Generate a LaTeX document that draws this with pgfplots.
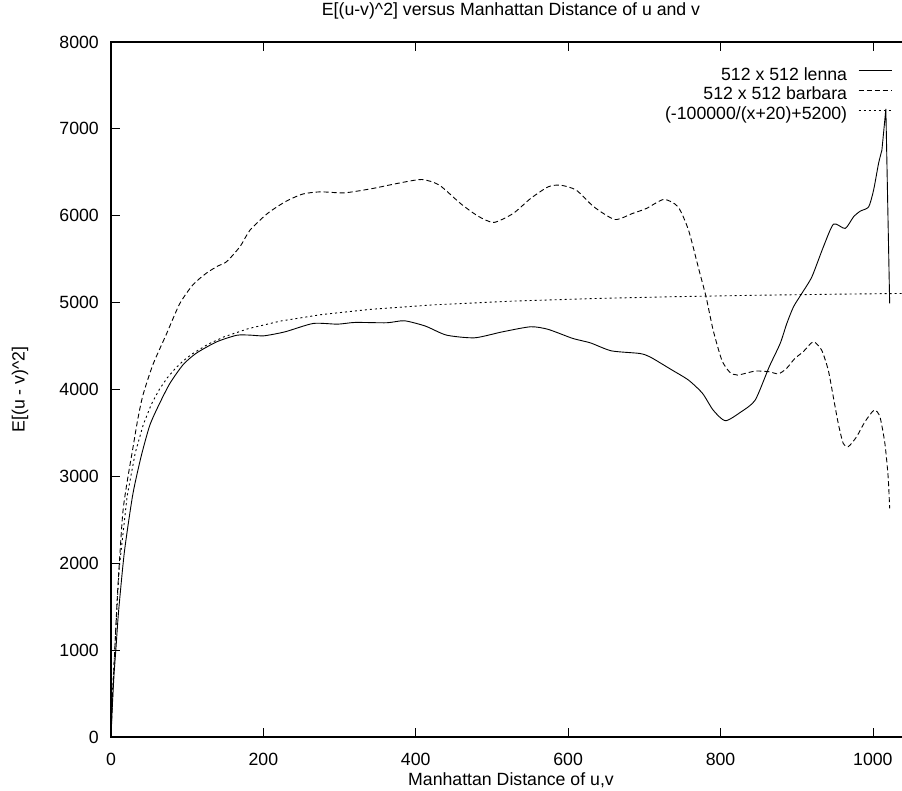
\documentclass[border=0pt]{standalone}
\usepackage{fontspec}
\setmainfont{Liberation Sans}
\usepackage{pgfplots}
\pgfplotsset{compat=1.18}
\begin{document}
\begin{tikzpicture}[font=\fontsize{17.7}{21}\selectfont]
\begin{axis}[name=ax,
  scale only axis, width=800pt, height=695pt,
  xmin=0, xmax=1050, ymin=0, ymax=8000,
  xtick={0,200,...,1000}, ytick={0,1000,...,8000},
  ytick pos=left,
  tick align=inside,
  major tick length=9pt,
  axis line style={line width=1.2pt},
  every tick/.style={black, line width=0.8pt},
  /pgf/number format/assume math mode=true,
  /pgf/number format/1000 sep={},
  scaled ticks=false,
  xticklabel style={anchor=base, inner sep=0pt, yshift=-29pt},
  yticklabel style={anchor=east, inner sep=0pt, xshift=-12pt},
  title={E[(u-v)\textasciicircum 2] versus Manhattan Distance of u and v},
  title style={at={(axis description cs:0.5,1)}, anchor=base, inner sep=0pt, yshift=20pt},
  xlabel={Manhattan Distance of u,v},
  xlabel style={at={(axis description cs:0.5,0)}, anchor=base, inner sep=0pt, yshift=-49pt},
  ylabel={E[(u - v)\textasciicircum 2]},
  ylabel style={at={([xshift=-91pt]axis description cs:0,0.5)}, anchor=center, inner sep=0pt},
  legend style={draw=none, fill=none, at={(rel axis cs:0.97625,1)}, anchor=north east,
    yshift=-25.4pt, inner sep=0pt, outer sep=0pt, row sep=0pt, column sep=11pt,
    nodes={inner sep=0pt, text height=13pt, text depth=6.6pt}},
  legend cell align=right,
  legend plot pos=right,
  legend image code/.code={\draw[#1] (0pt,6.3pt) -- (33pt,6.3pt);},
]
% 512 x 512 lenna
\addplot[black, line width=0.9pt, smooth, tension=0.4] coordinates {
(0,0) (2,400) (4,720) (6.6,1033) (10,1450) (17.6,2132) (28.6,2791) (39.6,3231)
(50.7,3582) (61.7,3802) (77,4066) (94.7,4286) (112,4418) (138.8,4549) (165,4624)
(182.4,4626) (200.8,4618) (228.5,4664) (265.4,4760) (297.5,4752) (320.6,4772)
(361.9,4768) (385,4791) (412.6,4730) (440.3,4626) (477.2,4595) (513.9,4664)
(550.8,4722) (573.8,4692) (606,4588) (629.1,4537) (656.7,4445) (693.6,4415)
(707.3,4376) (735,4231) (758,4108) (776.4,3955) (790.3,3763) (806.3,3640)
(827,3743) (845.5,3878) (863.9,4261) (878.3,4530) (887,4760) (895.8,4952)
(906.7,5106) (919.9,5297) (935,5642) (948.3,5903) (963.6,5854) (974.6,5988)
(983.4,6053) (994.4,6102) (1000.9,6295) (1007.4,6602) (1011.8,6755)
};
\addlegendentry{512 x 512 lenna}
% 512 x 512 barbara
\addplot[black, line width=0.9pt, dash pattern=on 5pt off 3pt, smooth, tension=0.4] coordinates {
(0,0) (2,450) (4.4,901) (8.8,1692) (15.4,2571) (22,2980) (28.6,3318) (35,3650)
(41.9,3934) (55,4286) (72.7,4637) (90.3,4989) (107.9,5209) (125.5,5341) (140,5420)
(152,5473) (169.6,5648) (182.4,5834) (205.4,6026) (228.5,6160) (251.4,6249)
(274.5,6275) (306.7,6264) (343.6,6314) (375.8,6372) (408,6417) (431,6352)
(458.7,6141) (481.8,5995) (502.5,5923) (527.8,6026) (550.8,6199) (573.8,6333)
(589.9,6352) (610.6,6295) (633.7,6103) (661.3,5957) (684.4,6026) (702.8,6084)
(725.7,6188) (744.2,6103) (758,5834) (771.8,5374) (781,5067) (790.3,4684)
(801.7,4338) (812,4200) (822.4,4166) (845.5,4212) (863.9,4204) (876,4180)
(886.7,4243) (897.6,4358) (908.5,4434) (921.7,4549) (932.7,4453) (941.4,4223)
(948,3916) (954.5,3610) (961,3380) (967.6,3341) (978.6,3456) (989.5,3628)
(1001.7,3763) (1009.2,3686) (1015.7,3380) (1020,2995) (1022,2632)
};
\addlegendentry{512 x 512 barbara}
% (-100000/(x+20)+5200), values as sampled
\addplot[black, line width=0.9pt, dash pattern=on 2pt off 3pt] coordinates {
(0,200) (10.6,1932) (21.2,2772.8) (31.8,3269.5) (42.4,3597.4) (53,3830.1)
(63.6,4003.8) (74.2,4138.4) (84.8,4245.8) (95.4,4333.4) (106,4406.3)
(127.2,4520.7) (148.4,4606.2) (180.2,4700.5) (222.6,4787.8) (275.6,4861.7)
(339.2,4921.6) (424,4974.8) (530,5018.2) (636,5047.6) (742,5068.8)
(848,5084.8) (954,5097.3) (1050,5106.5)
};
\addlegendentry{(-100000/(x+20)+5200)}
% lenna final peak and drop
\addplot[black, line width=0.9pt, forget plot] coordinates {
(1011.8,6755) (1014.5,7000) (1017,7230) (1022,4990)
};
\end{axis}
\pgfresetboundingbox
\path[use as bounding box] ([shift={(-111pt,-54pt)}]ax.south west) rectangle ([shift={(-9pt,42pt)}]ax.north east);
\end{tikzpicture}
\end{document}
